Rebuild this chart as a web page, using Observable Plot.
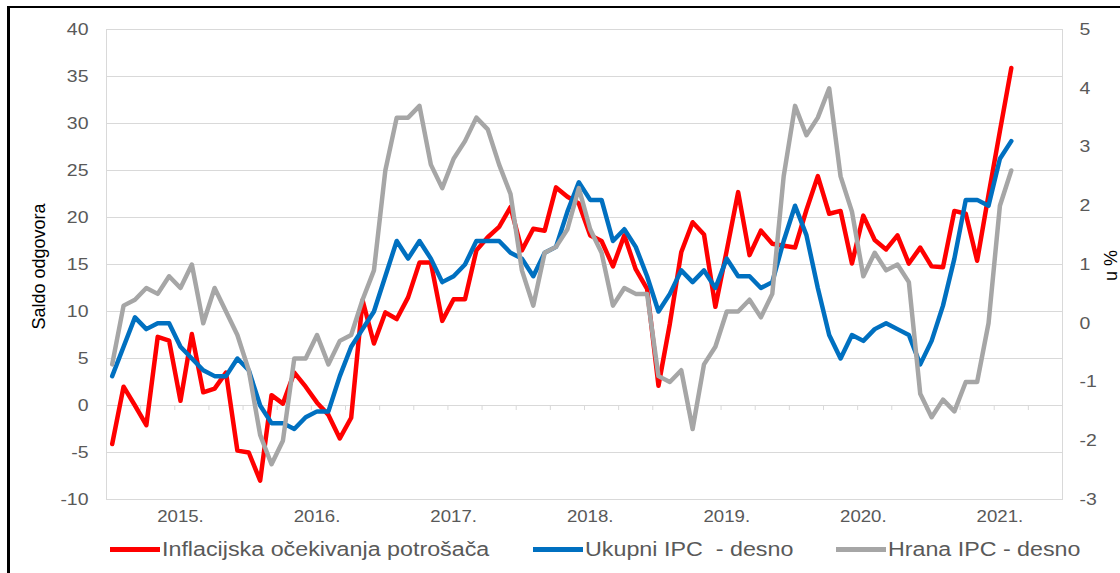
<!DOCTYPE html>
<html>
<head>
<meta charset="utf-8">
<script src="https://cdn.jsdelivr.net/npm/d3@7"></script>
<script src="https://cdn.jsdelivr.net/npm/@observablehq/plot@0.6"></script>
<style>
  body { margin: 0; background: #fff; font-family: "Liberation Sans", Arial, sans-serif; }
  #wrap { position: relative; width: 1120px; height: 573px; overflow: hidden; background: #fff; }
  #chart { position: absolute; left: 0; top: 0; }
  #frame { position: absolute; left: 7px; top: 6px; width: 1200px; height: 700px;
           border-left: 3px solid #000; border-top: 2px solid #000; pointer-events: none; }
  .sw { position: absolute; top: 547px; width: 50px; height: 4.5px; }
  .lt { position: absolute; top: 539px; font-size: 19.5px; line-height: 20px; color: #595959;
        white-space: pre; transform-origin: 0 50%; }
</style>
</head>
<body>
<div id="wrap">
  <div id="chart"></div>
  <div id="legend"></div>
  <div id="frame"></div>
</div>
<script>
// ---------- data ----------
const seriesNames = ["Inflacijska očekivanja potrošača", "Ukupni IPC  - desno", "Hrana IPC - desno"];
const yearLabels = ["2015.", "2016.", "2017.", "2018.", "2019.", "2020.", "2021."];
const leftTicks = [-10, -5, 0, 5, 10, 15, 20, 25, 30, 35, 40];
const rightTicks = [-3, -2, -1, 0, 1, 2, 3, 4, 5];
const leftTitle = "Saldo odgovora";
const rightTitle = "u %";

// monthly, from January 2015 (left axis: balance of responses)
const inflacijskaOcekivanja = [
  -4.1, 2.0, 0.0, -2.1, 7.3, 6.9, 0.5, 7.6, 1.4, 1.8, 3.5, -4.8,
  -5.0, -8.0, 1.1, 0.2, 3.5, 2.0, 0.3, -1.0, -3.5, -1.3, 11.2, 6.6,
  9.9, 9.2, 11.5, 15.2, 15.2, 9.0, 11.3, 11.3, 16.5, 17.9, 19.0, 21.1,
  16.5, 18.8, 18.6, 23.2, 22.2, 21.5, 18.1, 17.5, 14.8, 18.1, 14.5, 12.4,
  2.1, 8.7, 16.3, 19.5, 18.2, 10.5, 16.5, 22.7, 16.0, 18.6, 17.2, 17.0,
  16.8, 20.8, 24.4, 20.4, 20.7, 15.1, 20.2, 17.6, 16.6, 18.1, 15.1, 16.8,
  14.8, 14.7, 20.7, 20.4, 15.4, 22.4, 29.2, 35.9
];
// right axis, %
const ukupniIPC = [
  -0.9, -0.4, 0.1, -0.1, 0.0, 0.0, -0.4, -0.6, -0.8, -0.9, -0.9, -0.6,
  -0.8, -1.4, -1.7, -1.7, -1.8, -1.6, -1.5, -1.5, -0.9, -0.4, -0.1, 0.2,
  0.8, 1.4, 1.1, 1.4, 1.1, 0.7, 0.8, 1.0, 1.4, 1.4, 1.4, 1.2,
  1.1, 0.8, 1.2, 1.3, 1.9, 2.4, 2.1, 2.1, 1.4, 1.6, 1.3, 0.8,
  0.2, 0.5, 0.9, 0.7, 0.9, 0.6, 1.1, 0.8, 0.8, 0.6, 0.7, 1.4,
  2.0, 1.5, 0.6, -0.2, -0.6, -0.2, -0.3, -0.1, 0.0, -0.1, -0.2, -0.7,
  -0.3, 0.3, 1.1, 2.1, 2.1, 2.0, 2.8, 3.1
];
const hranaIPC = [
  -0.7, 0.3, 0.4, 0.6, 0.5, 0.8, 0.6, 1.0, 0.0, 0.6, 0.2, -0.2,
  -0.8, -1.9, -2.4, -2.0, -0.6, -0.6, -0.2, -0.7, -0.3, -0.2, 0.4, 0.9,
  2.6, 3.5, 3.5, 3.7, 2.7, 2.3, 2.8, 3.1, 3.5, 3.3, 2.7, 2.2,
  0.9, 0.3, 1.2, 1.3, 1.6, 2.3, 1.6, 1.2, 0.3, 0.6, 0.5, 0.5,
  -0.9, -1.0, -0.8, -1.8, -0.7, -0.4, 0.2, 0.2, 0.4, 0.1, 0.5, 2.5,
  3.7, 3.2, 3.5, 4.0, 2.5, 1.9, 0.8, 1.2, 0.9, 1.0, 0.7, -1.2,
  -1.6, -1.3, -1.5, -1.0, -1.0, 0.0, 2.0, 2.6
];

// ---------- helpers ----------
const [lMin, lMax] = d3.extent(leftTicks);
const [rMin, rMax] = d3.extent(rightTicks);
const k = (lMax - lMin) / (rMax - rMin);
const toLeft = r => lMin + (r - rMin) * k;
const fromLeft = l => rMin + (l - lMin) / k;

const nMonths = yearLabels.length * 12;
const rows = d3.range(inflacijskaOcekivanja.length).map(i => ({
  i,
  infl: inflacijskaOcekivanja[i],
  uk: toLeft(ukupniIPC[i]),
  hr: toLeft(hranaIPC[i])
}));
const yearTicks = yearLabels.map((_, j) => j * 12 + 6);
const quarterTicks = d3.range(3, nMonths, 3).map(m => m - 0.5);

const W = 1120, H = 530, mT = 29, mB = 31, mL = 106, mR = 58;
const unitsPerPx = (lMax - lMin) / (H - mT - mB);
const colors = ["#ff0000", "#0070c0", "#a6a6a6"];
const lineOpts = {strokeWidth: 4.5, strokeLinejoin: "round", strokeLinecap: "round"};

const chart = Plot.plot({
  width: W, height: H,
  marginTop: mT, marginBottom: mB, marginLeft: mL, marginRight: mR,
  style: {fontFamily: '"Liberation Sans", Arial, sans-serif', fontSize: "16px", color: "#595959", background: "transparent", overflow: "visible"},
  x: {type: "linear", domain: [-0.5, nMonths - 0.5], label: null},
  y: {domain: [lMin, lMax], label: null},
  marks: [
    Plot.gridY(leftTicks, {stroke: "#d9d9d9", strokeOpacity: 1, strokeWidth: 1}),
    Plot.frame({stroke: "#d9d9d9", strokeWidth: 1}),
    Plot.ruleY([0], {stroke: "#d9d9d9", strokeWidth: 1}),
    Plot.ruleX(quarterTicks, {y1: 0, y2: -5 * unitsPerPx, stroke: "#d9d9d9", strokeWidth: 1}),
    Plot.axisY(leftTicks, {anchor: "left", tickSize: 0, tickPadding: 18, fontSize: 16.5,
      tickFormat: d => String(d), label: null}),
    Plot.axisY(rightTicks.map(toLeft), {anchor: "right", tickSize: 0, tickPadding: 17, fontSize: 16.5,
      tickFormat: d => String(Math.round(fromLeft(d) * 10) / 10), label: null}),
    Plot.axisX(yearTicks, {anchor: "bottom", tickSize: 0, tickPadding: 11, fontSize: 15.8,
      tickFormat: d => yearLabels[Math.floor(d / 12)], label: null}),
    Plot.line(rows, {x: "i", y: "infl", stroke: colors[0], ...lineOpts}),
    Plot.line(rows, {x: "i", y: "uk", stroke: colors[1], ...lineOpts}),
    Plot.line(rows, {x: "i", y: "hr", stroke: colors[2], ...lineOpts}),
    Plot.text([leftTitle], {frameAnchor: "left", rotate: -90, textAnchor: "middle", lineAnchor: "bottom",
      dx: -62, dy: 2, fontSize: 18, fill: "#000"}),
    Plot.text([rightTitle], {frameAnchor: "right", rotate: -90, textAnchor: "middle", lineAnchor: "bottom",
      dx: 54, dy: 1, fontSize: 18, fill: "#000"})
  ]
});
document.getElementById("chart").appendChild(chart);

// horizontal stretch of tick labels, as in the reference
const S = 1.18;
chart.querySelectorAll('g[aria-label*="tick label"] text').forEach(t => {
  const x = +t.getAttribute("x") || 0, y = +t.getAttribute("y") || 0;
  const tr = t.getAttribute("transform") || "";
  t.setAttribute("transform", `${tr} translate(${x},${y}) scale(${S},1) translate(${-x},${-y})`);
});

// ---------- legend ----------
const legendLeft = [110, 533, 836];
const legendTextWidth = [327, 209, 193];
const legend = document.getElementById("legend");
seriesNames.forEach((name, j) => {
  const sw = document.createElement("div");
  sw.className = "sw";
  sw.style.left = legendLeft[j] + "px";
  sw.style.background = colors[j];
  legend.appendChild(sw);
  const lt = document.createElement("div");
  lt.className = "lt";
  lt.style.left = (legendLeft[j] + 52) + "px";
  lt.textContent = name;
  legend.appendChild(lt);
  const w = lt.offsetWidth;
  lt.style.transform = `scaleX(${legendTextWidth[j] / w})`;
});
</script>
</body>
</html>
